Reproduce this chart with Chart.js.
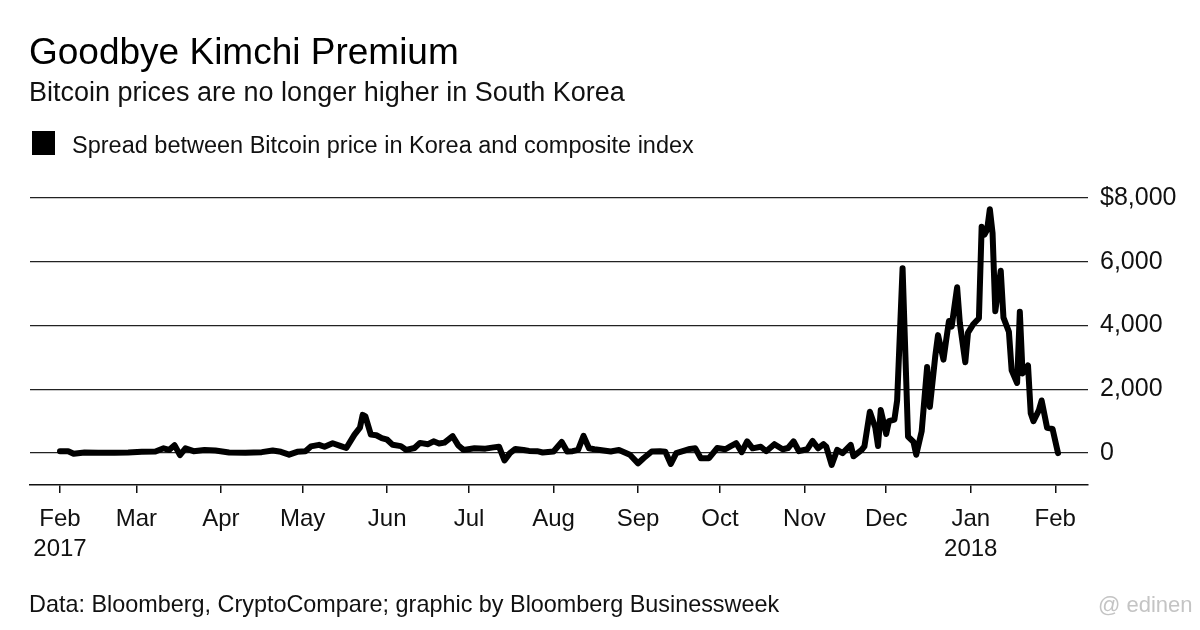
<!DOCTYPE html>
<html lang="en">
<head>
<meta charset="UTF-8">
<title>Goodbye Kimchi Premium</title>
<script src="https://cdn.jsdelivr.net/npm/chart.js"></script>
<style>
    body {
        margin: 0;
        background: #fff;
        font-family: "Liberation Sans", Arial, sans-serif;
        color: #000;
    }

    .page {
        position: relative;
        width: 1200px;
        height: 630px;
        overflow: hidden;
    }

    .txt {
        position: absolute;
        white-space: nowrap;
        line-height: 1;
    }

    .title { left: 29px; top: 33px; font-size: 37px; }
    .subtitle { left: 29px; top: 79px; font-size: 27px; color: #111; }
    .legend { left: 72px; top: 134px; font-size: 23.5px; color: #111; }
    .legend-box { position: absolute; left: 32px; top: 131px; width: 23px; height: 24px; background: #000; }
    .source { left: 29px; top: 593px; font-size: 23.4px; color: #111; }
    .mark { left: 1098px; top: 594px; font-size: 22px; color: #c4c4c4; }

    .chart-box {
        position: absolute;
        left: 0;
        top: 0;
        width: 1200px;
        height: 630px;
    }
</style>
</head>
<body>
<div class="page">
    <div class="chart-box"><canvas id="spreadChart"></canvas></div>
    <div class="txt title">Goodbye Kimchi Premium</div>
    <div class="txt subtitle">Bitcoin prices are no longer higher in South Korea</div>
    <div class="legend-box"></div>
    <div class="txt legend">Spread between Bitcoin price in Korea and composite index</div>
    <div class="txt source">Data: Bloomberg, CryptoCompare; graphic by Bloomberg Businessweek</div>
    <div class="txt mark">@ edinen</div>
</div>
<script>
    // days since Feb 1 2017
    const spreadDays = [
        0, 3, 5, 9, 14, 20, 25, 30, 35, 38, 40, 42, 44, 46, 49, 53, 57, 62, 68, 74,
        78, 81, 84, 87, 90, 92, 95, 97, 100, 103, 105, 108, 110, 111, 112, 114, 116, 118, 120, 122,
        125, 127, 130, 132, 135, 137, 139, 141, 144, 146, 148, 152, 156, 159, 161, 163, 165, 167, 170, 172,
        175, 177, 181, 184, 186, 188, 190, 192, 194, 196, 198, 202, 205, 209, 212, 214, 217, 220, 222, 224,
        226, 229, 231, 233, 235, 238, 241, 244, 246, 248, 250, 252, 254, 257, 259, 262, 265, 267, 269, 271,
        274, 276, 278, 280, 281, 283, 285, 287, 290, 291, 294, 295, 297, 299, 300, 301, 303, 304, 306, 307,
        309, 311, 313, 314, 316, 318, 319, 321, 322, 324, 325, 326, 327, 329, 330, 332, 333, 335, 337, 338,
        339, 340, 341, 342, 343, 345, 346, 348, 349, 351, 352, 353, 355, 356, 357, 359, 360, 362, 364, 366
    ];

    // spread in US$
    const spreadValues = [
        60, 60, -20, 20, 10, 10, 20, 40, 50, 150, 100, 250, -60, 150, 60, 100, 80, 20, 10, 30,
        80, 40, -50, 40, 60, 210, 260, 200, 310, 220, 160, 580, 800, 1200, 1150, 580, 560, 470, 420, 260,
        220, 100, 160, 320, 280, 370, 300, 330, 530, 250, 100, 150, 140, 180, 200, -230, 0, 130, 100, 70,
        60, 20, 50, 350, 50, 60, 100, 540, 150, 120, 100, 50, 100, -50, -320, -160, 50, 60, 40, -340,
        0, 80, 130, 150, -160, -160, 160, 120, 220, 310, 30, 370, 150, 200, 60, 280, 120, 160, 370, 60,
        120, 380, 150, 280, 200, -370, 100, 0, 260, -100, 100, 210, 1300, 800, 220, 1350, 600, 1000, 1050, 1650,
        5800, 520, 350, -50, 680, 2700, 1450, 3050, 3700, 2930, 3550, 4140, 3970, 5200, 4080, 2850, 3780, 4050, 4230, 7100,
        6850, 7000, 7650, 6900, 4450, 5720, 4250, 3800, 2600, 2200, 4430, 2500, 2750, 1250, 1000, 1350, 1650, 790, 760, 0
    ];

    const monthTickDays = [0, 28, 59, 89, 120, 150, 181, 212, 242, 273, 303, 334, 365];
    const monthTickLabels = [["Feb", "2017"], "Mar", "Apr", "May", "Jun", "Jul", "Aug", "Sep", "Oct", "Nov", "Dec", ["Jan", "2018"], "Feb"];

    const yTickValues = [0, 2000, 4000, 6000, 8000];
    const yTickLabels = ["0", "2,000", "4,000", "6,000", "$8,000"];

    const points = spreadDays.map((d, i) => ({ x: d, y: spreadValues[i] }));

    const spreadChart = new Chart(document.getElementById("spreadChart"), {
        type: "line",
        data: {
            datasets: [{
                label: "Spread between Bitcoin price in Korea and composite index",
                data: points,
                borderColor: "#000",
                borderWidth: 6,
                pointRadius: 0,
                tension: 0,
                borderJoinStyle: "round",
                borderCapStyle: "round"
            }]
        },
        options: {
            responsive: true,
            maintainAspectRatio: false,
            animation: false,
            layout: { padding: { top: 198, left: 30, right: 0, bottom: 65 } },
            plugins: {
                legend: { display: false },
                tooltip: { enabled: false }
            },
            scales: {
                x: {
                    type: "linear",
                    min: -11,
                    max: 377,
                    afterBuildTicks: (scale) => { scale.ticks = monthTickDays.map(v => ({ value: v })); },
                    afterFit: (scale) => { scale.height = 80; },
                    grid: {
                        drawOnChartArea: false,
                        drawTicks: true,
                        tickLength: 8,
                        color: "#111",
                        lineWidth: 1.5
                    },
                    border: { display: true, color: "#111", width: 1.5 },
                    ticks: {
                        autoSkip: false,
                        maxRotation: 0,
                        padding: 11,
                        color: "#111",
                        font: { family: "'Liberation Sans', Arial, sans-serif", size: 24, lineHeight: 1.25 },
                        callback: (value) => {
                            const i = monthTickDays.indexOf(value);
                            return i >= 0 ? monthTickLabels[i] : "";
                        }
                    }
                },
                y: {
                    position: "right",
                    min: -1000,
                    max: 8000,
                    afterBuildTicks: (scale) => { scale.ticks = yTickValues.map(v => ({ value: v })); },
                    afterFit: (scale) => { scale.width = 112; },
                    grid: {
                        drawTicks: false,
                        color: "#222",
                        lineWidth: 1.3
                    },
                    border: { display: false },
                    ticks: {
                        padding: 12,
                        color: "#111",
                        font: { family: "'Liberation Sans', Arial, sans-serif", size: 25 },
                        callback: (value) => {
                            const i = yTickValues.indexOf(value);
                            return i >= 0 ? yTickLabels[i] : "";
                        }
                    }
                }
            }
        }
    });
</script>
</body>
</html>
